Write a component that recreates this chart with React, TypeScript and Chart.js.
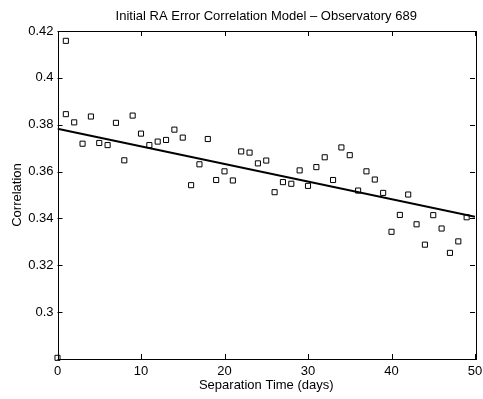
import React, { useEffect, useRef } from "react";
import { Chart, registerables } from "chart.js";

Chart.register(...registerables);

const days: number[] = [0, 1, 1, 2, 3, 4, 5, 6, 7, 8, 9, 10, 11, 12, 13, 14, 15, 16, 17, 18, 19, 20, 21, 22, 23, 24, 25, 26, 27, 28, 29, 30, 31, 32, 33, 34, 35, 36, 37, 38, 39, 40, 41, 42, 43, 44, 45, 46, 47, 48, 49];
const correlation: number[] = [0.2805, 0.4158, 0.3845, 0.381, 0.3719, 0.3835, 0.3722, 0.3713, 0.3808, 0.3648, 0.3839, 0.3762, 0.3713, 0.3728, 0.3735, 0.3779, 0.3745, 0.3542, 0.3631, 0.3739, 0.3564, 0.3601, 0.3562, 0.3686, 0.3681, 0.3635, 0.3647, 0.3512, 0.3555, 0.3548, 0.3605, 0.3539, 0.3619, 0.3661, 0.3564, 0.3703, 0.367, 0.3519, 0.3601, 0.3566, 0.3509, 0.3343, 0.3415, 0.3502, 0.3375, 0.3288, 0.3414, 0.3357, 0.3253, 0.3302, 0.3405];
const fitX: number[] = [0, 50];
const fitY: number[] = [0.3783, 0.3407];
const xTicks: number[] = [0, 10, 20, 30, 40, 50];
const yTicks: number[] = [0.28, 0.3, 0.32, 0.34, 0.36, 0.38, 0.4, 0.42];

const TITLE = "Initial RA Error Correlation Model \u2013 Observatory 689";
const XLABEL = "Separation Time (days)";
const YLABEL = "Correlation";
const FONT = "'Liberation Sans', Arial, Helvetica, sans-serif";

const framePlugin = {
  id: "frame",
  afterDraw(chart: any) {
    const { ctx, chartArea: a, scales } = chart;
    const L = 5;
    ctx.save();
    ctx.strokeStyle = "#000";
    ctx.lineWidth = 1;
    ctx.beginPath();
    xTicks.forEach((t) => {
      const px = Math.round(scales.x.getPixelForValue(t)) + 0.5;
      ctx.moveTo(px, a.bottom);
      ctx.lineTo(px, a.bottom - L);
      ctx.moveTo(px, a.top);
      ctx.lineTo(px, a.top + L);
    });
    yTicks.forEach((t) => {
      const py = Math.round(scales.y.getPixelForValue(t)) + 0.5;
      ctx.moveTo(a.left, py);
      ctx.lineTo(a.left + L, py);
      ctx.moveTo(a.right, py);
      ctx.lineTo(a.right - L, py);
    });
    ctx.stroke();
    ctx.strokeRect(Math.round(a.left) + 0.5, Math.round(a.top) + 0.5, Math.round(a.right - a.left), Math.round(a.bottom - a.top));
    ctx.fillStyle = "#000";
    ctx.font = `13px ${FONT}`;
    ctx.textAlign = "center";
    ctx.textBaseline = "middle";
    const cx = (a.left + a.right) / 2;
    ctx.fillText(TITLE, cx, 16);
    ctx.fillText(XLABEL, cx, 385);
    ctx.translate(17, (a.top + a.bottom) / 2);
    ctx.rotate(-Math.PI / 2);
    ctx.fillText(YLABEL, 0, 0);
    ctx.restore();
  },
};

export default function App() {
  const ref = useRef<HTMLCanvasElement | null>(null);
  useEffect(() => {
    if (!ref.current) return;
    const chart = new Chart(ref.current, {
      type: "scatter",
      data: {
        datasets: [
          {
            type: "line",
            data: fitX.map((x, i) => ({ x, y: fitY[i] })),
            borderColor: "#000",
            borderWidth: 2,
            pointRadius: 0,
            fill: false,
          } as any,
          {
            data: days.map((x, i) => ({ x, y: correlation[i] })),
            pointStyle: "rect",
            pointRadius: 3.6,
            pointBorderWidth: 1,
            pointBorderColor: "#000",
            pointBackgroundColor: "rgba(255,255,255,0)",
            clip: false,
          } as any,
        ],
      },
      options: {
        animation: false,
        responsive: true,
        maintainAspectRatio: false,
        layout: { padding: { top: 31, right: 8, left: 0, bottom: 0 } },
        plugins: { legend: { display: false }, tooltip: { enabled: false }, title: { display: false } },
        scales: {
          x: {
            type: "linear",
            min: 0,
            max: 50,
            grid: { display: false, drawTicks: false },
            border: { display: false },
            afterBuildTicks: (s: any) => {
              s.ticks = xTicks.map((v) => ({ value: v }));
            },
            afterFit: (s: any) => {
              s.height = 40;
              s.paddingLeft = 0;
              s.paddingRight = 0;
            },
            ticks: {
              color: "#000",
              padding: 5,
              maxRotation: 0,
              font: { family: FONT, size: 13 },
              callback: (v: any) => String(v),
            },
          },
          y: {
            type: "linear",
            min: 0.28,
            max: 0.42,
            grid: { display: false, drawTicks: false },
            border: { display: false },
            afterBuildTicks: (s: any) => {
              s.ticks = yTicks.map((v) => ({ value: v }));
            },
            afterFit: (s: any) => {
              s.width = 57.5;
              s.paddingTop = 0;
              s.paddingBottom = 0;
            },
            ticks: {
              color: "#000",
              padding: 4,
              font: { family: FONT, size: 13 },
              callback: (v: any) => {
                const n = Number(Number(v).toFixed(2));
                return Math.abs(n - 0.28) < 1e-9 ? "" : String(n);
              },
            },
          },
        },
      },
      plugins: [framePlugin],
    });
    return () => chart.destroy();
  }, []);
  return (
    <div style={{ position: "absolute", left: 0, top: 0, width: 483, height: 399, background: "#fff" }}>
      <canvas ref={ref} />
    </div>
  );
}
